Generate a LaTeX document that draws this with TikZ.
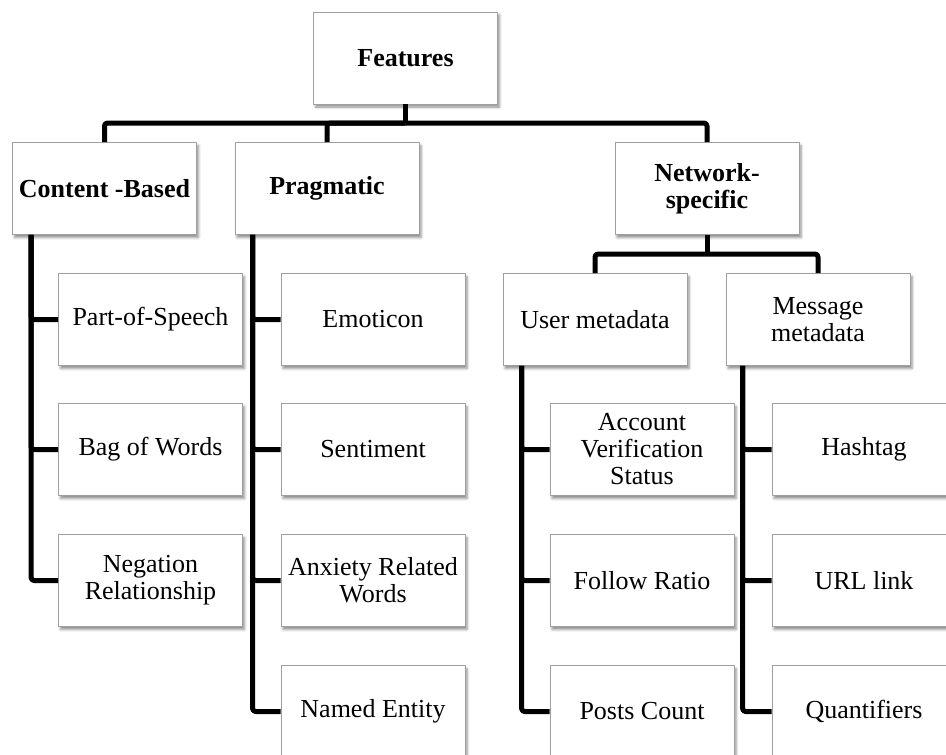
\documentclass[tikz,border=0pt]{standalone}
\usepackage{fontspec}
\setmainfont{Liberation Serif}
\usetikzlibrary{shadows.blur}

\begin{document}
\begin{tikzpicture}[x=1pt, y=-1pt, line width=5pt, line cap=butt, line join=round,
  box/.style={draw=gray!75, line width=0.8pt, fill=white, align=center,
    minimum width=184pt, minimum height=92pt, inner sep=2pt,
    font=\fontsize{26}{27}\selectfont,
    blur shadow={shadow xshift=2pt, shadow yshift=-3pt, shadow blur radius=2.5pt, shadow opacity=45}},
  head/.style={box, font=\fontsize{26}{27}\selectfont\bfseries},
  link/.style={line width=5pt, rounded corners=3pt}]

  %% ════ top level ════
  \node[head] (feat) at (405.5,58.0) {Features};

  %% ════ categories ════
  \node[head] (cb)   at (104.5,188.5) {Content -Based};
  \node[head] (prag) at (327.0,188.5) {Pragmatic};
  \node[head] (net)  at (707.0,188.5) {Network-\\specific};

  %% ════ network sub-groups ════
  \node[box] (user) at (595.0,319.5) {User metadata};
  \node[box] (msg)  at (818.0,319.5) {Message\\metadata};

  %% ════ leaves ════
  \node[box] (pos)   at (150.5,319.5) {Part-of-Speech};
  \node[box] (bow)   at (150.5,449.5) {Bag of Words};
  \node[box] (neg)   at (150.5,580.5) {Negation\\Relationship};

  \node[box] (emo)   at (373.0,319.5) {Emoticon};
  \node[box] (sent)  at (373.0,449.5) {Sentiment};
  \node[box] (anx)   at (373.0,580.5) {Anxiety Related\\Words};
  \node[box] (ne)    at (373.0,711.5) {Named Entity};

  \node[box] (acc)   at (642.0,449.5) {Account\\Verification\\Status};
  \node[box] (fol)   at (642.0,580.5) {Follow Ratio};
  \node[box] (posts) at (642.0,711.5) {Posts Count};

  \node[box] (hash)  at (864.0,449.5) {Hashtag};
  \node[box] (url)   at (864.0,580.5) {URL link};
  \node[box] (quant) at (864.0,711.5) {Quantifiers};

  %% ════ bars ════
  \coordinate (fbar) at (405.5,123.0);
  \coordinate (nbar) at (707.0,254.0);

  %% ════ connectors ════
  \draw[link] (feat.south) -- (fbar);
  \draw[link] (cb.north) |- (fbar);
  \draw[link] (prag.north) |- (fbar);
  \draw[link] (net.north) |- (fbar);

  \draw[link] (net.south) -- (nbar);
  \draw[link] (user.north) |- (nbar) -| (msg.north);

  \foreach \leaf in {pos,bow,neg}
    \draw[link] ([xshift=19pt]cb.south west) |- (\leaf.west);
  \foreach \leaf in {emo,sent,anx,ne}
    \draw[link] ([xshift=18pt]prag.south west) |- (\leaf.west);
  \foreach \leaf in {acc,fol,posts}
    \draw[link] ([xshift=19pt]user.south west) |- (\leaf.west);
  \foreach \leaf in {hash,url,quant}
    \draw[link] ([xshift=17pt]msg.south west) |- (\leaf.west);

  % fix the canvas to the reference size
  \pgfresetboundingbox
  \path[use as bounding box] (0,0) rectangle (946,755);
\end{tikzpicture}
\end{document}
